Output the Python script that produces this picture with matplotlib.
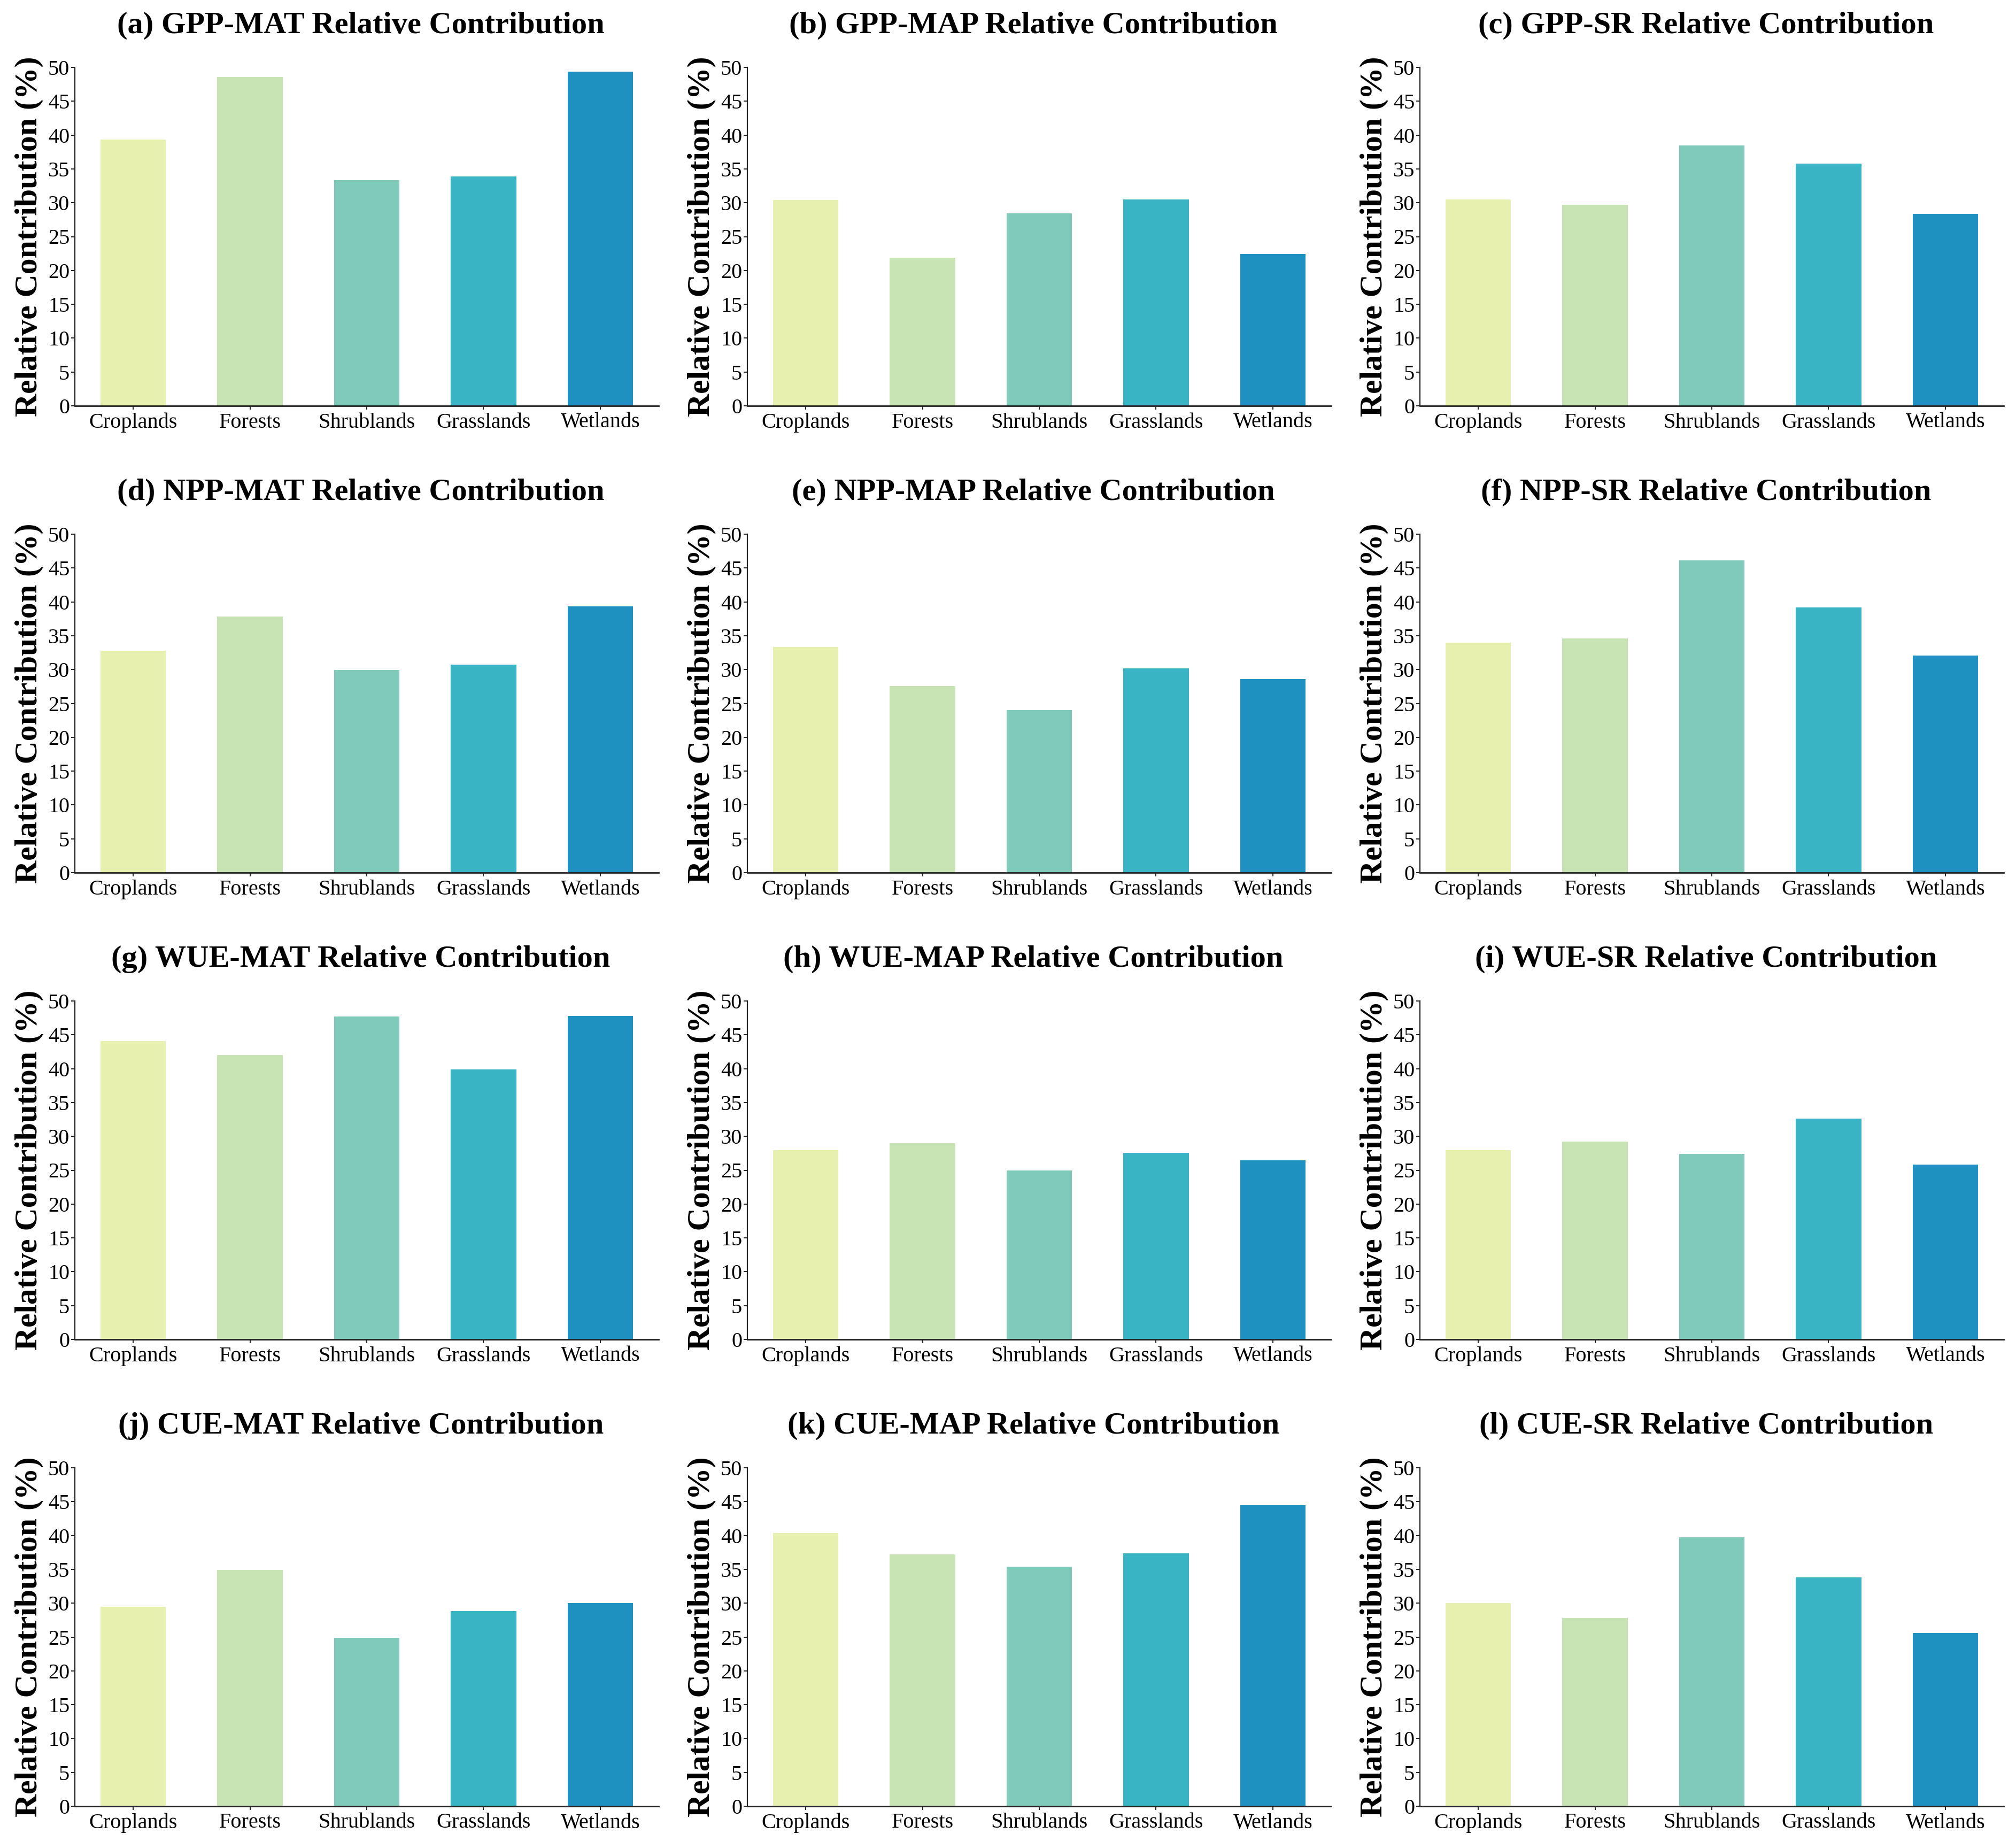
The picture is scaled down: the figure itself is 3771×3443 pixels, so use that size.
# =================================================================================
# imports...
# =================================================================================

import matplotlib
matplotlib.use("Agg")
import matplotlib.pyplot as plt

# =================================================================================
# data ...
# =================================================================================

categories = ["Croplands", "Forests", "Shrublands", "Grasslands", "Wetlands"]

gpp_mat = [39.3, 48.6, 33.3, 33.85, 49.4]
gpp_map = [30.4, 21.9, 28.4, 30.5, 22.45]
gpp_sr = [30.5, 29.7, 38.5, 35.8, 28.35]

npp_mat = [32.8, 37.8, 29.9, 30.7, 39.3]
npp_map = [33.3, 27.6, 24.05, 30.2, 28.6]
npp_sr = [34.0, 34.6, 46.1, 39.2, 32.1]

wue_mat = [44.1, 42.0, 47.7, 39.9, 47.8]
wue_map = [28.0, 29.0, 25.0, 27.6, 26.5]
wue_sr = [28.0, 29.2, 27.4, 32.6, 25.8]

cue_mat = [29.5, 34.9, 24.9, 28.8, 30.0]
cue_map = [40.4, 37.2, 35.4, 37.4, 44.5]
cue_sr = [30.0, 27.8, 39.7, 33.8, 25.6]

titles = ["(a) GPP-MAT Relative Contribution", "(b) GPP-MAP Relative Contribution",
          "(c) GPP-SR Relative Contribution", "(d) NPP-MAT Relative Contribution",
          "(e) NPP-MAP Relative Contribution", "(f) NPP-SR Relative Contribution",
          "(g) WUE-MAT Relative Contribution", "(h) WUE-MAP Relative Contribution",
          "(i) WUE-SR Relative Contribution", "(j) CUE-MAT Relative Contribution",
          "(k) CUE-MAP Relative Contribution", "(l) CUE-SR Relative Contribution"]

panels = [gpp_mat, gpp_map, gpp_sr,
          npp_mat, npp_map, npp_sr,
          wue_mat, wue_map, wue_sr,
          cue_mat, cue_map, cue_sr]

colors = ["#e8f0b0", "#c8e3b4", "#7fcab9", "#39b4c4", "#1e91c1"]
yticks = list(range(0, 51, 5))

# =================================================================================
# figure ...
# =================================================================================

plt.rcParams["font.family"] = ["Liberation Serif", "DejaVu Serif"]

W, H = 3771, 3443
fig = plt.figure(figsize=(W / 100, H / 100), dpi=100)

col_left = [140, 1398, 2656]
row_top = [126, 999, 1872, 2745]
ax_w, ax_h = 1092, 633

for i, vals in enumerate(panels):
    r, c = divmod(i, 3)
    ax = fig.add_axes([col_left[c] / W, 1 - (row_top[r] + ax_h) / H, ax_w / W, ax_h / H])

    ax.bar(range(len(categories)), vals, width=0.56, color=colors)

    ax.set_xlim(-0.5, 4.5)
    ax.set_ylim(0, 50)
    ax.set_xticks(range(len(categories)))
    ax.set_xticklabels(categories)
    ax.set_yticks(yticks)

    ax.spines["top"].set_visible(False)
    ax.spines["right"].set_visible(False)
    ax.spines["left"].set_linewidth(1.6)
    ax.spines["bottom"].set_linewidth(2.0)
    ax.spines["left"].set_color("#222222")
    ax.spines["bottom"].set_color("#222222")

    ax.tick_params(axis="both", labelsize=29, length=5, width=1.4, pad=2, color="#222222")
    ax.tick_params(axis="x", pad=4)

    ax.set_ylabel("Relative Contribution (%)", fontsize=43, fontweight="bold", labelpad=6)
    ax.set_title(titles[i], fontsize=42, fontweight="bold", pad=46, x=0.49)

fig.savefig("out.png", dpi=100)
